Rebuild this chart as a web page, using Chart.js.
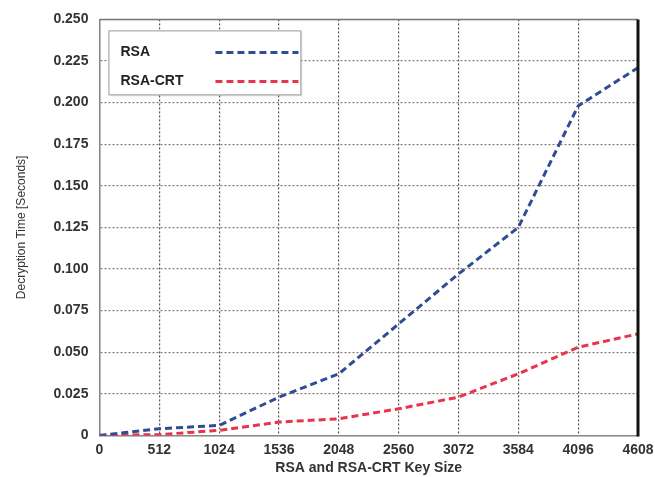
<!DOCTYPE html>
<html>
<head>
<meta charset="utf-8">
<script src="https://cdn.jsdelivr.net/npm/chart.js@4.4.1/dist/chart.umd.min.js"></script>
<style>
  html, body { margin: 0; padding: 0; background: #fff; }
  #wrap { width: 655px; height: 477px; position: relative; }
</style>
</head>
<body>
<div id="wrap"><canvas id="decChart"></canvas></div>
<script>
// Key sizes (x) and decryption times in seconds (y)
const keySizes = [0, 512, 1024, 1536, 2048, 2560, 3072, 3584, 4096, 4608];
const rsaTimes = [0, 0.004, 0.006, 0.023, 0.037, 0.067, 0.097, 0.125, 0.198, 0.221];
const crtTimes = [0, 0.0005, 0.003, 0.008, 0.010, 0.016, 0.023, 0.037, 0.053, 0.061];
const seriesNames = ['RSA', 'RSA-CRT'];
const yTicks = [0, 0.025, 0.05, 0.075, 0.1, 0.125, 0.15, 0.175, 0.2, 0.225, 0.25];

const toPoints = (ys) => keySizes.map((x, i) => ({ x: x, y: ys[i] }));
const font = "'Liberation Sans', Arial, sans-serif";

// legend drawn inside the plot area, top left
const insideLegend = {
    id: 'insideLegend',
    afterDatasetsDraw(chart) {
        const ctx = chart.ctx;
        const a = chart.chartArea;
        const bx = a.left + 9, by = a.top + 11, bw = 192, bh = 64;
        ctx.save();
        ctx.fillStyle = 'rgba(0,0,0,0.08)';
        ctx.fillRect(bx + 2, by + 2, bw, bh);
        ctx.fillStyle = '#fff';
        ctx.fillRect(bx, by, bw, bh);
        ctx.strokeStyle = '#999';
        ctx.lineWidth = 1;
        ctx.strokeRect(bx + 0.5, by + 0.5, bw, bh);
        chart.data.datasets.forEach((ds, i) => {
            const ty = by + 22 + i * 29;
            ctx.fillStyle = '#222';
            ctx.font = 'bold 14px ' + font;
            ctx.textBaseline = 'middle';
            ctx.fillText(ds.label, bx + 12, ty);
            ctx.strokeStyle = ds.borderColor;
            ctx.lineWidth = 3;
            ctx.setLineDash(ds.borderDash);
            ctx.beginPath();
            ctx.moveTo(bx + 107, ty);
            ctx.lineTo(bx + 190, ty);
            ctx.stroke();
            ctx.setLineDash([]);
        });
        ctx.restore();
    }
};

// frame: gray top, heavy black right edge
const frame = {
    id: 'frame',
    afterDraw(chart) {
        const ctx = chart.ctx;
        const a = chart.chartArea;
        ctx.save();
        ctx.strokeStyle = '#777';
        ctx.lineWidth = 1.5;
        ctx.beginPath();
        ctx.moveTo(a.left, a.top);
        ctx.lineTo(a.right, a.top);
        ctx.stroke();
        ctx.strokeStyle = '#111';
        ctx.lineWidth = 3;
        ctx.beginPath();
        ctx.moveTo(a.right, a.top);
        ctx.lineTo(a.right, a.bottom + 1);
        ctx.stroke();
        ctx.restore();
    }
};

new Chart(document.getElementById('decChart'), {
    type: 'line',
    data: {
        datasets: [
            {
                label: seriesNames[0],
                data: toPoints(rsaTimes),
                borderColor: '#2f4d94',
                borderWidth: 3,
                borderDash: [7, 4],
                pointRadius: 0,
                tension: 0,
                fill: false
            },
            {
                label: seriesNames[1],
                data: toPoints(crtTimes),
                borderColor: '#e8344c',
                borderWidth: 3,
                borderDash: [7, 4],
                pointRadius: 0,
                tension: 0,
                fill: false
            }
        ]
    },
    options: {
        responsive: true,
        maintainAspectRatio: false,
        animation: false,
        layout: { padding: { left: 14, right: 4, top: 9, bottom: 0 } },
        plugins: {
            legend: { display: false },
            tooltip: { enabled: false }
        },
        scales: {
            x: {
                type: 'linear',
                min: 0,
                max: 4608,
                afterBuildTicks: (axis) => { axis.ticks = keySizes.map(v => ({ value: v })); },
                // let the last label run closer to the edge, as in the original
                afterFit: (axis) => { axis.paddingRight = 17; },
                grid: { color: '#555', lineWidth: 1.2, drawTicks: false },
                border: { color: '#888', width: 1.5, dash: [2, 2] },
                ticks: {
                    color: '#333',
                    font: { family: font, size: 14, weight: 'bold' },
                    padding: 6,
                    maxRotation: 0,
                    autoSkip: false,
                    callback: (v) => String(v)
                },
                title: {
                    display: true,
                    text: 'RSA and RSA-CRT Key Size',
                    color: '#333',
                    font: { family: font, size: 14, weight: 'bold' },
                    padding: { top: -4, bottom: 0 }
                }
            },
            y: {
                min: 0,
                max: 0.25,
                afterBuildTicks: (axis) => { axis.ticks = yTicks.map(v => ({ value: v })); },
                grid: { color: '#8a7a70', lineWidth: 1.2, drawTicks: false },
                border: { color: '#888', width: 1.5, dash: [2, 2] },
                ticks: {
                    color: '#333',
                    font: { family: font, size: 14, weight: 'bold' },
                    padding: 11,
                    callback: (v) => v === 0 ? '0' : v.toFixed(3)
                },
                title: {
                    display: true,
                    text: 'Decryption Time [Seconds]',
                    color: '#333',
                    font: { family: font, size: 12 },
                    padding: { top: 0, bottom: 14 }
                }
            }
        }
    },
    plugins: [insideLegend, frame]
});
</script>
</body>
</html>
